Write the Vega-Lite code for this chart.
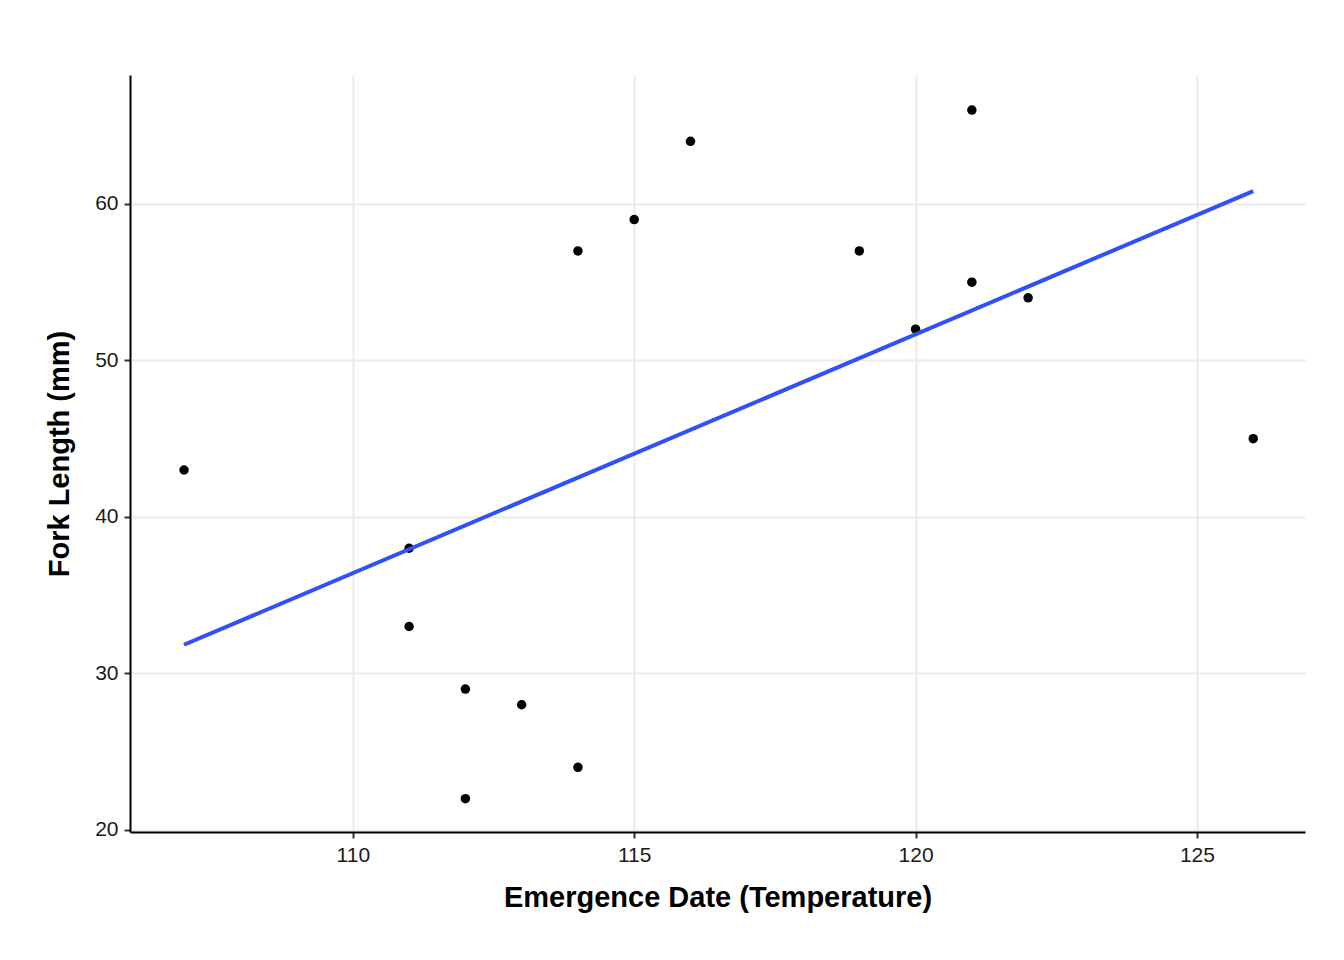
{
"$schema":"https://vega.github.io/schema/vega-lite/v6.json",
"width":1175,"height":757,
"autosize":{"type":"none"},
"padding":{"left":130,"top":75,"right":39,"bottom":128},
"background":"white",
"config":{"view":{"stroke":null},"font":"Liberation Sans"},
"data":{"values":[
{"x":107,"y":43},{"x":111,"y":38},{"x":111,"y":33},{"x":112,"y":29},{"x":112,"y":22},{"x":113,"y":28},{"x":114,"y":57},{"x":114,"y":24},{"x":115,"y":59},{"x":116,"y":64},{"x":119,"y":57},{"x":120,"y":52},{"x":121,"y":66},{"x":121,"y":55},{"x":122,"y":54},{"x":126,"y":45}]},
"encoding":{
"x":{"field":"x","type":"quantitative","scale":{"domain":[106.04,126.92],"nice":false,"zero":false},
"axis":{"title":"Emergence Date (Temperature)","values":[110,115,120,125],"grid":true,"gridColor":"#ebebeb","gridWidth":2,"domainColor":"black","domainWidth":2,"ticks":true,"tickColor":"#333","tickWidth":2,"tickSize":6,"labelFontSize":21,"labelColor":"#1a1a1a","titleFontSize":29,"titleFontWeight":"bold","titleColor":"black","titlePadding":18,"labelPadding":6}},
"y":{"field":"y","type":"quantitative","scale":{"domain":[19.87,68.24],"nice":false,"zero":false},
"axis":{"title":"Fork Length (mm)","values":[20,30,40,50,60],"grid":true,"gridColor":"#ebebeb","gridWidth":2,"domainColor":"black","domainWidth":2,"ticks":true,"tickColor":"#333","tickWidth":2,"tickSize":6,"labelFontSize":21,"labelColor":"#1a1a1a","titleFontSize":29,"titleFontWeight":"bold","titleColor":"black","titlePadding":20,"labelPadding":6}}
},
"layer":[
{"mark":{"type":"circle","size":90,"color":"black","opacity":1}},
{"transform":[{"regression":"y","on":"x"}],"mark":{"type":"line","color":"#3050f8","strokeWidth":4}}
]
}
